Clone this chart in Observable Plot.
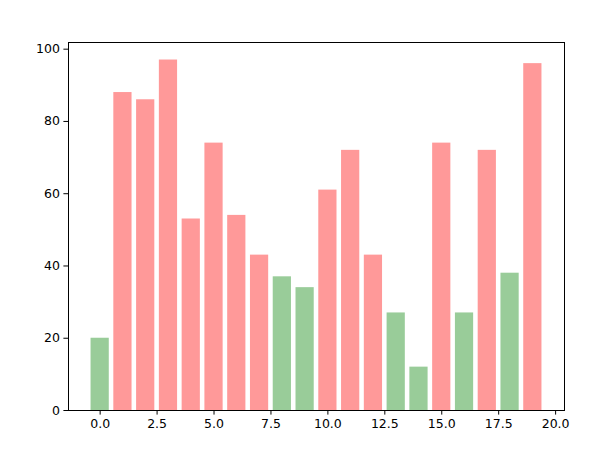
<!DOCTYPE html>
<html>
<head>
<meta charset="utf-8">
<script src="https://cdn.jsdelivr.net/npm/d3@7"></script>
<script src="https://cdn.jsdelivr.net/npm/@observablehq/plot@0.6"></script>
<style>
  html, body { margin: 0; padding: 0; background: #fff; }
  svg { display: block; }
</style>
</head>
<body>
<div id="chart"></div>
<script>
const positions = [0,1,2,3,4,5,6,7,8,9,10,11,12,13,14,15,16,17,18,19];
const values = [20,88,86,97,53,74,54,43,37,34,61,72,43,27,12,74,27,72,38,96];
const xTicks = [0,2.5,5,7.5,10,12.5,15,17.5,20];
const yTicks = [0,20,40,60,80,100];
const threshold = 40;

const data = positions.map((p, i) => ({x: p, v: values[i]}));

const chart = Plot.plot({
  width: 604,
  height: 449,
  marginLeft: 68,
  marginRight: 40,
  marginTop: 42,
  marginBottom: 39,
  style: {fontFamily: "DejaVu Sans", fontSize: "12.5px", color: "#000", background: "#fff"},
  x: {domain: [-1.39, 20.39], ticks: xTicks, tickFormat: d => d.toFixed(1), tickSize: 4.6, tickPadding: 4, label: null},
  y: {domain: [0, 101.85], ticks: yTicks, tickSize: 4.6, tickPadding: 4, label: null},
  marks: [
    Plot.rectY(data, {
      x1: d => d.x - 0.4,
      x2: d => d.x + 0.4,
      y1: 0,
      y2: "v",
      fill: d => d.v < threshold ? "#99cc99" : "#ff9999"
    }),
    Plot.frame({stroke: "#000", strokeWidth: 1})
  ]
});
document.getElementById("chart").appendChild(chart);
</script>
</body>
</html>
